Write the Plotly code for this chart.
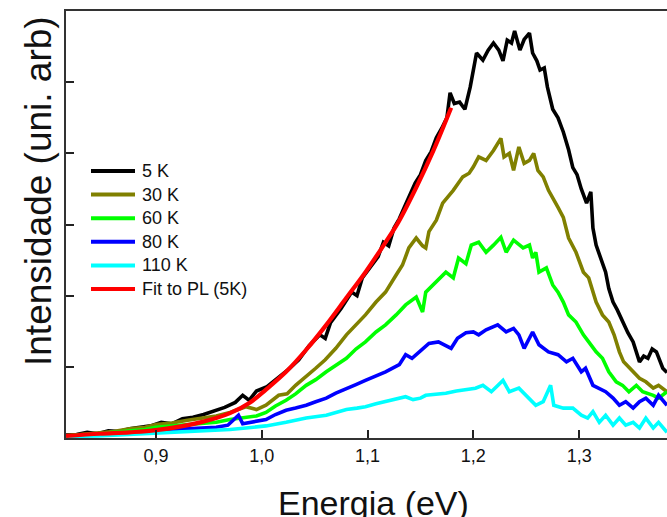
import plotly.graph_objects as go

# ---------------- data ----------------
E_5K = [0.815, 0.825, 0.835, 0.845, 0.855, 0.865, 0.875, 0.885, 0.895, 0.905, 0.915, 0.925, 0.935, 0.945,
        0.955, 0.965, 0.975, 0.982, 0.988, 0.995, 1.005, 1.015, 1.025, 1.035, 1.045, 1.055, 1.060, 1.065,
        1.075, 1.085, 1.090, 1.095, 1.105, 1.110, 1.115, 1.120, 1.125, 1.130, 1.135, 1.140, 1.145, 1.150,
        1.155, 1.160, 1.165, 1.170, 1.175, 1.178, 1.182, 1.187, 1.192, 1.197, 1.203, 1.209, 1.214, 1.219,
        1.224, 1.228, 1.232, 1.236, 1.239, 1.244, 1.248, 1.253, 1.256, 1.260, 1.263, 1.267, 1.270, 1.275,
        1.280, 1.285, 1.290, 1.294, 1.298, 1.302, 1.307, 1.311, 1.313, 1.316, 1.320, 1.325, 1.328, 1.332,
        1.336, 1.341, 1.346, 1.351, 1.357, 1.361, 1.365, 1.369, 1.373, 1.379, 1.383]
I_5K = [0.04, 0.05, 0.08, 0.06, 0.10, 0.09, 0.13, 0.15, 0.17, 0.22, 0.20, 0.27, 0.29, 0.33,
        0.38, 0.43, 0.50, 0.60, 0.53, 0.66, 0.72, 0.84, 0.96, 1.10, 1.30, 1.45, 1.40, 1.62,
        1.82, 2.05, 2.00, 2.25, 2.45, 2.55, 2.75, 2.70, 2.95, 3.08, 3.25, 3.42, 3.58, 3.70,
        3.90, 4.02, 4.22, 4.35, 4.50, 4.85, 4.70, 4.72, 4.62, 4.93, 5.41, 5.31, 5.45, 5.55,
        5.45, 5.30, 5.59, 5.55, 5.72, 5.45, 5.60, 5.69, 5.41, 5.30, 5.17, 5.20, 4.93, 4.62,
        4.50, 4.30, 4.05, 3.80, 3.70, 3.50, 3.30, 3.46, 2.95, 2.71, 2.55, 2.33, 2.10, 1.91,
        1.80, 1.63, 1.48, 1.35, 1.07, 1.15, 1.12, 1.25, 1.21, 0.98, 0.92]

E_30K = [0.815, 0.830, 0.845, 0.860, 0.875, 0.890, 0.900, 0.915, 0.930, 0.945, 0.957, 0.970, 0.985, 0.995,
         1.004, 1.016, 1.024, 1.032, 1.041, 1.051, 1.060, 1.070, 1.080, 1.089, 1.098, 1.108, 1.117, 1.127,
         1.133, 1.139, 1.146, 1.152, 1.155, 1.158, 1.165, 1.171, 1.181, 1.190, 1.196, 1.200, 1.205, 1.212,
         1.219, 1.226, 1.229, 1.234, 1.238, 1.243, 1.248, 1.253, 1.257, 1.261, 1.266, 1.271, 1.275, 1.280,
         1.285, 1.290, 1.297, 1.304, 1.309, 1.316, 1.322, 1.328, 1.333, 1.338, 1.342, 1.351, 1.357, 1.363,
         1.370, 1.375, 1.383]
I_30K = [0.03, 0.05, 0.08, 0.09, 0.13, 0.15, 0.19, 0.21, 0.25, 0.28, 0.31, 0.36, 0.44, 0.40,
         0.46, 0.60, 0.62, 0.74, 0.85, 0.98, 1.10, 1.26, 1.45, 1.59, 1.73, 1.91, 2.05, 2.29,
         2.43, 2.67, 2.81, 2.70, 2.67, 2.90, 3.06, 3.30, 3.48, 3.67, 3.72, 3.81, 3.95, 3.90,
         4.04, 4.21, 3.95, 4.00, 3.76, 4.09, 3.86, 3.90, 4.00, 3.76, 3.67, 3.48, 3.38, 3.24,
         3.10, 2.81, 2.61, 2.33, 2.25, 1.91, 1.73, 1.63, 1.45, 1.21, 1.07, 0.93, 0.84, 0.79,
         0.70, 0.74, 0.65]

E_60K = [0.815, 0.830, 0.845, 0.860, 0.875, 0.890, 0.900, 0.915, 0.930, 0.945, 0.957, 0.970, 0.985, 0.995,
         1.004, 1.013, 1.023, 1.032, 1.042, 1.051, 1.061, 1.070, 1.080, 1.089, 1.098, 1.108, 1.117, 1.127,
         1.136, 1.146, 1.152, 1.155, 1.165, 1.174, 1.181, 1.186, 1.193, 1.198, 1.205, 1.212, 1.219, 1.226,
         1.231, 1.238, 1.247, 1.253, 1.256, 1.259, 1.262, 1.269, 1.275, 1.280, 1.285, 1.290, 1.297, 1.304,
         1.309, 1.316, 1.322, 1.328, 1.335, 1.341, 1.347, 1.354, 1.360, 1.370, 1.375, 1.383]
I_60K = [0.03, 0.04, 0.06, 0.08, 0.10, 0.12, 0.15, 0.17, 0.19, 0.21, 0.22, 0.26, 0.29, 0.31,
         0.36, 0.45, 0.53, 0.62, 0.74, 0.82, 0.93, 1.02, 1.12, 1.25, 1.35, 1.49, 1.59, 1.73,
         1.87, 1.98, 1.77, 2.05, 2.19, 2.33, 2.25, 2.53, 2.45, 2.71, 2.75, 2.61, 2.71, 2.82,
         2.61, 2.78, 2.67, 2.71, 2.53, 2.61, 2.33, 2.39, 2.15, 2.05, 1.91, 1.73, 1.63, 1.45,
         1.35, 1.21, 1.12, 0.93, 0.79, 0.74, 0.65, 0.74, 0.65, 0.60, 0.56, 0.65]

E_80K = [0.815, 0.830, 0.845, 0.860, 0.875, 0.890, 0.900, 0.915, 0.930, 0.945, 0.957, 0.968, 0.978, 0.982,
         0.990, 1.004, 1.013, 1.023, 1.032, 1.042, 1.051, 1.061, 1.070, 1.080, 1.089, 1.098, 1.108, 1.117,
         1.130, 1.136, 1.142, 1.149, 1.158, 1.167, 1.179, 1.185, 1.193, 1.200, 1.205, 1.212, 1.223, 1.231,
         1.238, 1.243, 1.248, 1.256, 1.262, 1.271, 1.280, 1.288, 1.294, 1.302, 1.306, 1.313, 1.319, 1.325,
         1.332, 1.338, 1.344, 1.351, 1.357, 1.363, 1.370, 1.375, 1.383]
I_80K = [0.02, 0.03, 0.04, 0.05, 0.07, 0.09, 0.11, 0.12, 0.13, 0.14, 0.15, 0.18, 0.32, 0.20,
         0.22, 0.26, 0.33, 0.39, 0.42, 0.46, 0.51, 0.56, 0.63, 0.70, 0.75, 0.81, 0.87, 0.93,
         1.03, 1.17, 1.12, 1.21, 1.33, 1.35, 1.26, 1.40, 1.48, 1.49, 1.45, 1.52, 1.59, 1.49,
         1.54, 1.45, 1.26, 1.49, 1.31, 1.21, 1.17, 1.07, 1.12, 0.93, 0.98, 0.74, 0.70, 0.65,
         0.56, 0.46, 0.51, 0.42, 0.51, 0.56, 0.46, 0.60, 0.46]

E_110K = [0.815, 0.830, 0.845, 0.860, 0.875, 0.890, 0.900, 0.915, 0.930, 0.945, 0.957, 0.970, 0.985, 0.995,
          1.004, 1.023, 1.042, 1.061, 1.080, 1.090, 1.098, 1.108, 1.117, 1.127, 1.136, 1.143, 1.150, 1.155,
          1.165, 1.174, 1.184, 1.193, 1.202, 1.209, 1.217, 1.228, 1.234, 1.243, 1.250, 1.259, 1.266, 1.273,
          1.276, 1.285, 1.294, 1.302, 1.308, 1.313, 1.319, 1.325, 1.332, 1.338, 1.344, 1.351, 1.357, 1.363,
          1.370, 1.375, 1.383]
I_110K = [0.02, 0.02, 0.03, 0.04, 0.05, 0.06, 0.07, 0.08, 0.09, 0.10, 0.11, 0.12, 0.14, 0.15,
          0.17, 0.22, 0.28, 0.32, 0.40, 0.42, 0.44, 0.48, 0.51, 0.55, 0.58, 0.54, 0.56, 0.60,
          0.61, 0.63, 0.66, 0.68, 0.70, 0.74, 0.65, 0.81, 0.65, 0.70, 0.60, 0.46, 0.51, 0.74,
          0.46, 0.42, 0.42, 0.32, 0.28, 0.37, 0.22, 0.32, 0.18, 0.28, 0.18, 0.22, 0.14, 0.28,
          0.14, 0.22, 0.08]

E_fit = [0.815, 0.847, 0.875, 0.900, 0.942, 0.970, 0.989, 1.004, 1.023, 1.042, 1.061, 1.080,
         1.098, 1.117, 1.129, 1.146, 1.162, 1.179]
I_fit = [0.03, 0.06, 0.08, 0.11, 0.22, 0.35, 0.50, 0.68, 0.93, 1.24, 1.59, 1.97,
         2.33, 2.75, 3.03, 3.52, 4.03, 4.64]

series_names = ["5 K", "30 K", "60 K", "80 K", "110 K", "Fit to PL (5K)"]
series_colors = ["#000000", "#808000", "#00FF00", "#0000FF", "#00FFFF", "#FF0000"]

x_tick_vals = [0.9, 1.0, 1.1, 1.2, 1.3]
x_tick_text = ["0,9", "1,0", "1,1", "1,2", "1,3"]
y_tick_vals = [1, 2, 3, 4, 5]

FONT = "Arial, Liberation Sans, sans-serif"
TXT = "#111111"

W, H = 667, 517
ML, MR, MT, MB = 66, 0, 11, 79
PW, PH = W - ML - MR, H - MT - MB


def px_to_paper(px, py):
    """figure pixel -> paper coordinates"""
    return (px - ML) / PW, (H - MB - py) / PH


fig = go.Figure()
data = [(E_5K, I_5K), (E_30K, I_30K), (E_60K, I_60K), (E_80K, I_80K), (E_110K, I_110K), (E_fit, I_fit)]
for i, ((ex, iy), name, col) in enumerate(zip(data, series_names, series_colors)):
    fig.add_trace(go.Scatter(
        x=ex, y=iy, mode="lines", name=name, showlegend=False,
        line=dict(color=col, width=4.2 if i == 5 else 3.6, shape="spline" if i == 5 else "linear"),
    ))

# legend drawn as line samples + text (matches the reference's long samples / tight spacing)
shapes = []
annotations = []
leg_y0, leg_dy = 171, 23.6
for k, (name, col) in enumerate(zip(series_names, series_colors)):
    py = leg_y0 + k * leg_dy
    x0, yy = px_to_paper(91, py)
    x1, _ = px_to_paper(135, py)
    xt, _ = px_to_paper(140, py)
    shapes.append(dict(type="line", xref="paper", yref="paper", x0=x0, x1=x1, y0=yy, y1=yy,
                       line=dict(color=col, width=4)))
    annotations.append(dict(text=name, xref="paper", yref="paper", x=xt, y=yy,
                            xanchor="left", yanchor="middle", showarrow=False,
                            font=dict(size=18, family=FONT, color=TXT)))

tx, ty = px_to_paper(373, 503)
annotations.append(dict(text="Energia (eV)", xref="paper", yref="paper", x=tx, y=ty,
                        xanchor="center", yanchor="middle", showarrow=False,
                        font=dict(size=34, family=FONT, color=TXT)))
yx, yy = px_to_paper(38, 191)
annotations.append(dict(text="Intensidade (uni. arb)", xref="paper", yref="paper", x=yx, y=yy,
                        xanchor="center", yanchor="middle", textangle=-90, showarrow=False,
                        font=dict(size=37, family=FONT, color=TXT)))

fig.update_layout(
    width=W, height=H,
    margin=dict(l=ML, r=MR, t=MT, b=MB, autoexpand=False),
    paper_bgcolor="white", plot_bgcolor="white",
    font=dict(family=FONT, color=TXT),
    showlegend=False,
    shapes=shapes,
    annotations=annotations,
    xaxis=dict(
        range=[0.815, 1.383], tickvals=x_tick_vals, ticktext=x_tick_text,
        ticks="inside", ticklen=8, tickwidth=1.5, tickcolor="#222222",
        showline=True, linecolor="#333333", linewidth=2, mirror=True,
        showgrid=False, zeroline=False,
        tickfont=dict(size=18, family=FONT, color=TXT),
    ),
    yaxis=dict(
        range=[0, 6], tickvals=y_tick_vals, showticklabels=False,
        ticks="inside", ticklen=8, tickwidth=1.5, tickcolor="#222222",
        showline=True, linecolor="#333333", linewidth=2, mirror=False,
        showgrid=False, zeroline=False,
    ),
)

# remove the default page margin so the figure sits at the window's top-left corner
fig.write_html(
    "out.html",
    config={"displayModeBar": False},
    post_script="document.documentElement.style.margin='0';document.body.style.margin='0';"
                "document.body.style.overflow='hidden';",
)
